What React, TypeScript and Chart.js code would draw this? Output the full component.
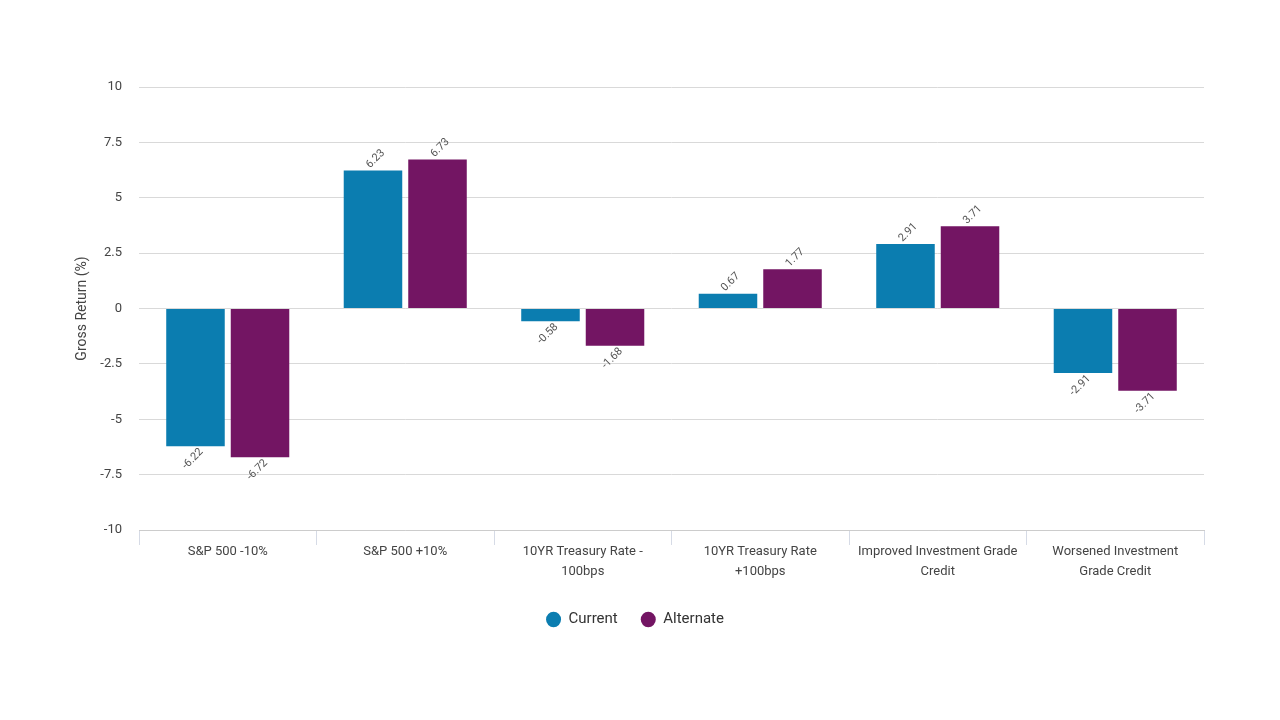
import React, { useEffect, useRef } from "react";
import { Chart, registerables } from "chart.js";

Chart.register(...registerables);

const categories: (string | string[])[] = [
  "S&P 500 -10%",
  "S&P 500 +10%",
  ["10YR Treasury Rate -", "100bps"],
  ["10YR Treasury Rate", "+100bps"],
  ["Improved Investment Grade", "Credit"],
  ["Worsened Investment", "Grade Credit"],
];
const currentValues = [-6.22, 6.23, -0.58, 0.67, 2.91, -2.91];
const alternateValues = [-6.72, 6.73, -1.68, 1.77, 3.71, -3.71];
const seriesNames = ["Current", "Alternate"];
const yTitle = "Gross Return (%)";

const BLUE = "#0b7db0";
const PURPLE = "#731563";

const valueLabelPlugin = {
  id: "valueLabels",
  afterDatasetsDraw(chart: any) {
    const ctx = chart.ctx;
    ctx.save();
    ctx.font = "11px Roboto";
    ctx.fillStyle = "#555";
    chart.data.datasets.forEach((ds: any, di: number) => {
      const meta = chart.getDatasetMeta(di);
      meta.data.forEach((bar: any, i: number) => {
        const v = ds.data[i];
        const txt = v.toFixed(2);
        ctx.save();
        if (v >= 0) {
          ctx.translate(bar.x - 5, bar.y - 4);
          ctx.rotate(-Math.PI / 4);
          ctx.textAlign = "left";
          ctx.textBaseline = "middle";
        } else {
          ctx.translate(bar.x + 6, bar.y + 4);
          ctx.rotate(-Math.PI / 4);
          ctx.textAlign = "right";
          ctx.textBaseline = "middle";
        }
        ctx.fillText(txt, 0, 0);
        ctx.restore();
      });
    });
    ctx.restore();
  },
};

export default function App() {
  const ref = useRef<HTMLCanvasElement>(null);
  useEffect(() => {
    document.body.style.margin = "0";
    const chart = new Chart(ref.current!, {
      type: "bar",
      data: {
        labels: categories,
        datasets: [
          {
            label: seriesNames[0],
            data: currentValues,
            backgroundColor: BLUE,
            categoryPercentage: 0.727,
            barPercentage: 0.907,
          },
          {
            label: seriesNames[1],
            data: alternateValues,
            backgroundColor: PURPLE,
            categoryPercentage: 0.727,
            barPercentage: 0.907,
          },
        ],
      },
      options: {
        animation: false,
        responsive: false,
        layout: { padding: { top: 87, right: 76, left: 66, bottom: 83 } },
        plugins: {
          legend: {
            position: "bottom",
            labels: {
              usePointStyle: true,
              pointStyle: "circle",
              boxWidth: 15,
              boxHeight: 11,
              pointStyleWidth: 15,
              padding: 23,
              color: "#333",
              font: { family: "Roboto", size: 15 },
            },
          },
          tooltip: { enabled: false },
        },
        scales: {
          x: {
            offset: true,
            afterFit: (scale: any) => {
              scale.height = 59;
            },
            grid: {
              display: true,
              drawOnChartArea: false,
              drawTicks: true,
              tickLength: 15,
              color: "#d6dbe6",
              offset: true,
            },
            border: { display: true, color: "#cccccc" },
            ticks: {
              color: "#444",
              font: { family: "Roboto", size: 13, lineHeight: 1.6 },
              padding: -4,
              maxRotation: 0,
              autoSkip: false,
            },
          },
          y: {
            min: -10,
            max: 10,
            afterFit: (scale: any) => {
              scale.width = 73;
            },
            ticks: {
              stepSize: 2.5,
              color: "#444",
              font: { family: "Roboto", size: 13 },
              padding: 17,
            },
            grid: { color: "#d9d9d9", drawTicks: false },
            border: { display: false },
            title: {
              display: true,
              text: yTitle,
              color: "#444",
              font: { family: "Roboto", size: 14 },
              padding: { top: 8, bottom: 0 },
            },
          },
        },
      },
      plugins: [valueLabelPlugin],
    });
    return () => chart.destroy();
  }, []);
  return (
    <div style={{ width: 1280, height: 720, background: "#fff" }}>
      <canvas ref={ref} width={1280} height={720} />
    </div>
  );
}
